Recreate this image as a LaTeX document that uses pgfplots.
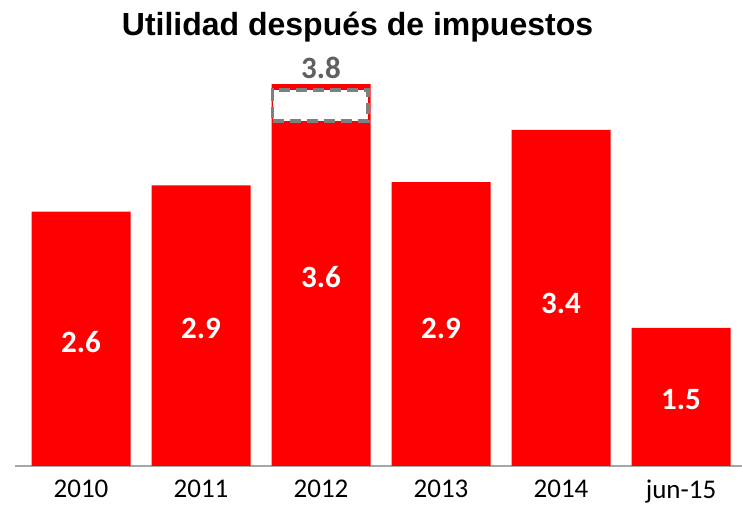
\documentclass[border=0pt]{standalone}
\usepackage{pgfplots}
\pgfplotsset{compat=1.18}
\usepackage{fontspec}
\setmainfont{Carlito}
\newfontfamily\titlefont{Liberation Sans}

\definecolor{barred}{HTML}{FF0000}
\definecolor{boxgray}{HTML}{7F7F7F}
\definecolor{labgray}{HTML}{606060}
\definecolor{axgray}{HTML}{A6A6A6}

\begin{document}
\begin{tikzpicture}[x=1pt,y=1pt]
\useasboundingbox (0,0) rectangle (742,506);

\node[anchor=base, font=\titlefont\bfseries\fontsize{32}{36}\selectfont] at (357.5,470) {Utilidad después de impuestos};

\begin{axis}[
    at={(15pt,40pt)}, anchor=south west,
    scale only axis,
    width=727pt, height=406pt,
    xmin=-0.55, xmax=5.508,
    ymin=0.19, ymax=4.038,
    axis x line=bottom,
    axis y line=none,
    x axis line style={-, draw=axgray, line width=2pt},
    xtick={0,1,2,3,4,5},
    xticklabels={2010,2011,2012,2013,2014,jun-15},
    major tick length=0pt,
    xticklabel style={font=\fontsize{27}{31}\selectfont, yshift=-10pt},
    clip=false,
]

% barras principales
\addplot[ybar, bar width=99pt, fill=barred, draw=none] coordinates {
    (0,2.60) (1,2.85) (2,3.81) (3,2.88) (4,3.375) (5,1.50)
};

% recuadro punteado de 2012
\addplot[draw=boxgray, fill=white, line width=3.5pt, dash pattern=on 11pt off 6pt] coordinates {
    (1.597,3.46) (2.39,3.46) (2.39,3.754) (1.597,3.754)
} -- cycle;

% etiquetas
\begin{scope}[every node/.style={font=\bfseries\fontsize{31}{35}\selectfont, text=white, anchor=center}]
\node at (axis cs:0,1.365) {2.6};
\node at (axis cs:1,1.498) {2.9};
\node at (axis cs:2,1.98) {3.6};
\node at (axis cs:3,1.498) {2.9};
\node at (axis cs:4,1.735) {3.4};
\node at (axis cs:5,0.816) {1.5};
\node[text=labgray] at (axis cs:2,3.963) {3.8};
\end{scope}

\end{axis}
\end{tikzpicture}
\end{document}
